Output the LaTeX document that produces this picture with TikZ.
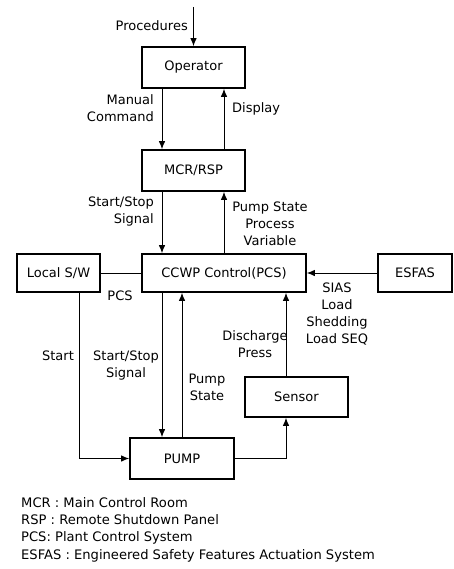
\documentclass[tikz,border=0pt]{standalone}
\usepackage{fontspec}
\setmainfont{DejaVu Sans}
\usepackage{tikz}
\usetikzlibrary{arrows.meta,positioning}

\begin{document}
\begin{tikzpicture}[x=1pt, y=-1pt, every node/.style={font=\fontsize{13}{17}\selectfont},
    box/.style={rectangle, draw, line width=1.6pt, inner sep=0pt},
    arr/.style={-{Latex[length=8pt,width=6.5pt]}, line width=1pt},
    plain/.style={line width=1pt},
    lbl/.style={align=center, inner sep=0pt}]
    \useasboundingbox (0,0) rectangle (454,569);

    % Blocks
    \node[box, minimum width=103pt, minimum height=41pt] (op) at (193.5,67.5) {Operator};
    \node[box, minimum width=103pt, minimum height=41pt] (mcr) at (193.5,170.5) {MCR/RSP};
    \node[box, minimum width=164pt, minimum height=38pt] (ccwp) at (224,273) {CCWP Control(PCS)};
    \node[box, minimum width=83pt, minimum height=38pt] (lsw) at (58.5,273) {Local S/W};
    \node[box, minimum width=74pt, minimum height=38pt] (esfas) at (415,273) {ESFAS};
    \node[box, minimum width=103pt, minimum height=40pt] (sensor) at (296.5,397) {Sensor};
    \node[box, minimum width=104pt, minimum height=41pt] (pump) at (182,458.5) {PUMP};
    \coordinate (top) at (193.5,7);

    % Connectors
    \draw[arr] (top) -- (op.north);
    \draw[arr] ([xshift=-31.5pt]op.south) -- ([xshift=-31.5pt]mcr.north);
    \draw[arr] ([xshift=30.5pt]mcr.north) -- ([xshift=30.5pt]op.south);
    \draw[arr] ([xshift=-31.5pt]mcr.south) -- ([xshift=-31.5pt]mcr.south |- ccwp.north);
    \draw[arr] ([xshift=30.5pt]mcr.south |- ccwp.north) -- ([xshift=30.5pt]mcr.south);
    \draw[plain] (lsw.east) -- (ccwp.west);
    \draw[arr] (esfas.west) -- (ccwp.east);
    \draw[arr] ([xshift=20.5pt]lsw.south) |- (pump.west);
    \draw[arr] ([xshift=-20pt]pump.north |- ccwp.south) -- ([xshift=-20pt]pump.north);
    \draw[arr] (pump.north) -- (pump.north |- ccwp.south);
    \draw[arr] ([xshift=-10.5pt]sensor.north) -- ([xshift=-10.5pt]sensor.north |- ccwp.south);
    \draw[arr] (pump.east) -| ([xshift=-10.5pt]sensor.south);

    % Labels
    \node[lbl, anchor=east] (lproc) at (188,26) {Procedures};
    \node[lbl, anchor=east, align=right] (lman) at (154,108.5) {Manual\\Command};
    \node[lbl, anchor=west] (ldisp) at (232,109) {Display};
    \node[lbl, anchor=east, align=right] (lss1) at (154,211.5) {Start/Stop\\Signal};
    \node[lbl] (lpsv) at (270,224) {Pump State\\Process\\Variable};
    \node[lbl] (lpcs) at (120,296) {PCS};
    \node[lbl] (lsias) at (337,314) {SIAS\\Load\\Shedding\\Load SEQ};
    \node[lbl] (lstart) at (58,356) {Start};
    \node[lbl] (lss2) at (126,365.5) {Start/Stop\\Signal};
    \node[lbl] (lps) at (207,387) {Pump\\State};
    \node[lbl] (ldis) at (255,344.5) {Discharge\\Press};

    % Legend
    \node[lbl, anchor=north west, align=left, font=\fontsize{13.1}{17.3}\selectfont] (legend) at (21,497) {MCR : Main Control Room\\RSP : Remote Shutdown Panel\\PCS: Plant Control System\\ESFAS : Engineered Safety Features Actuation System};
\end{tikzpicture}
\end{document}
